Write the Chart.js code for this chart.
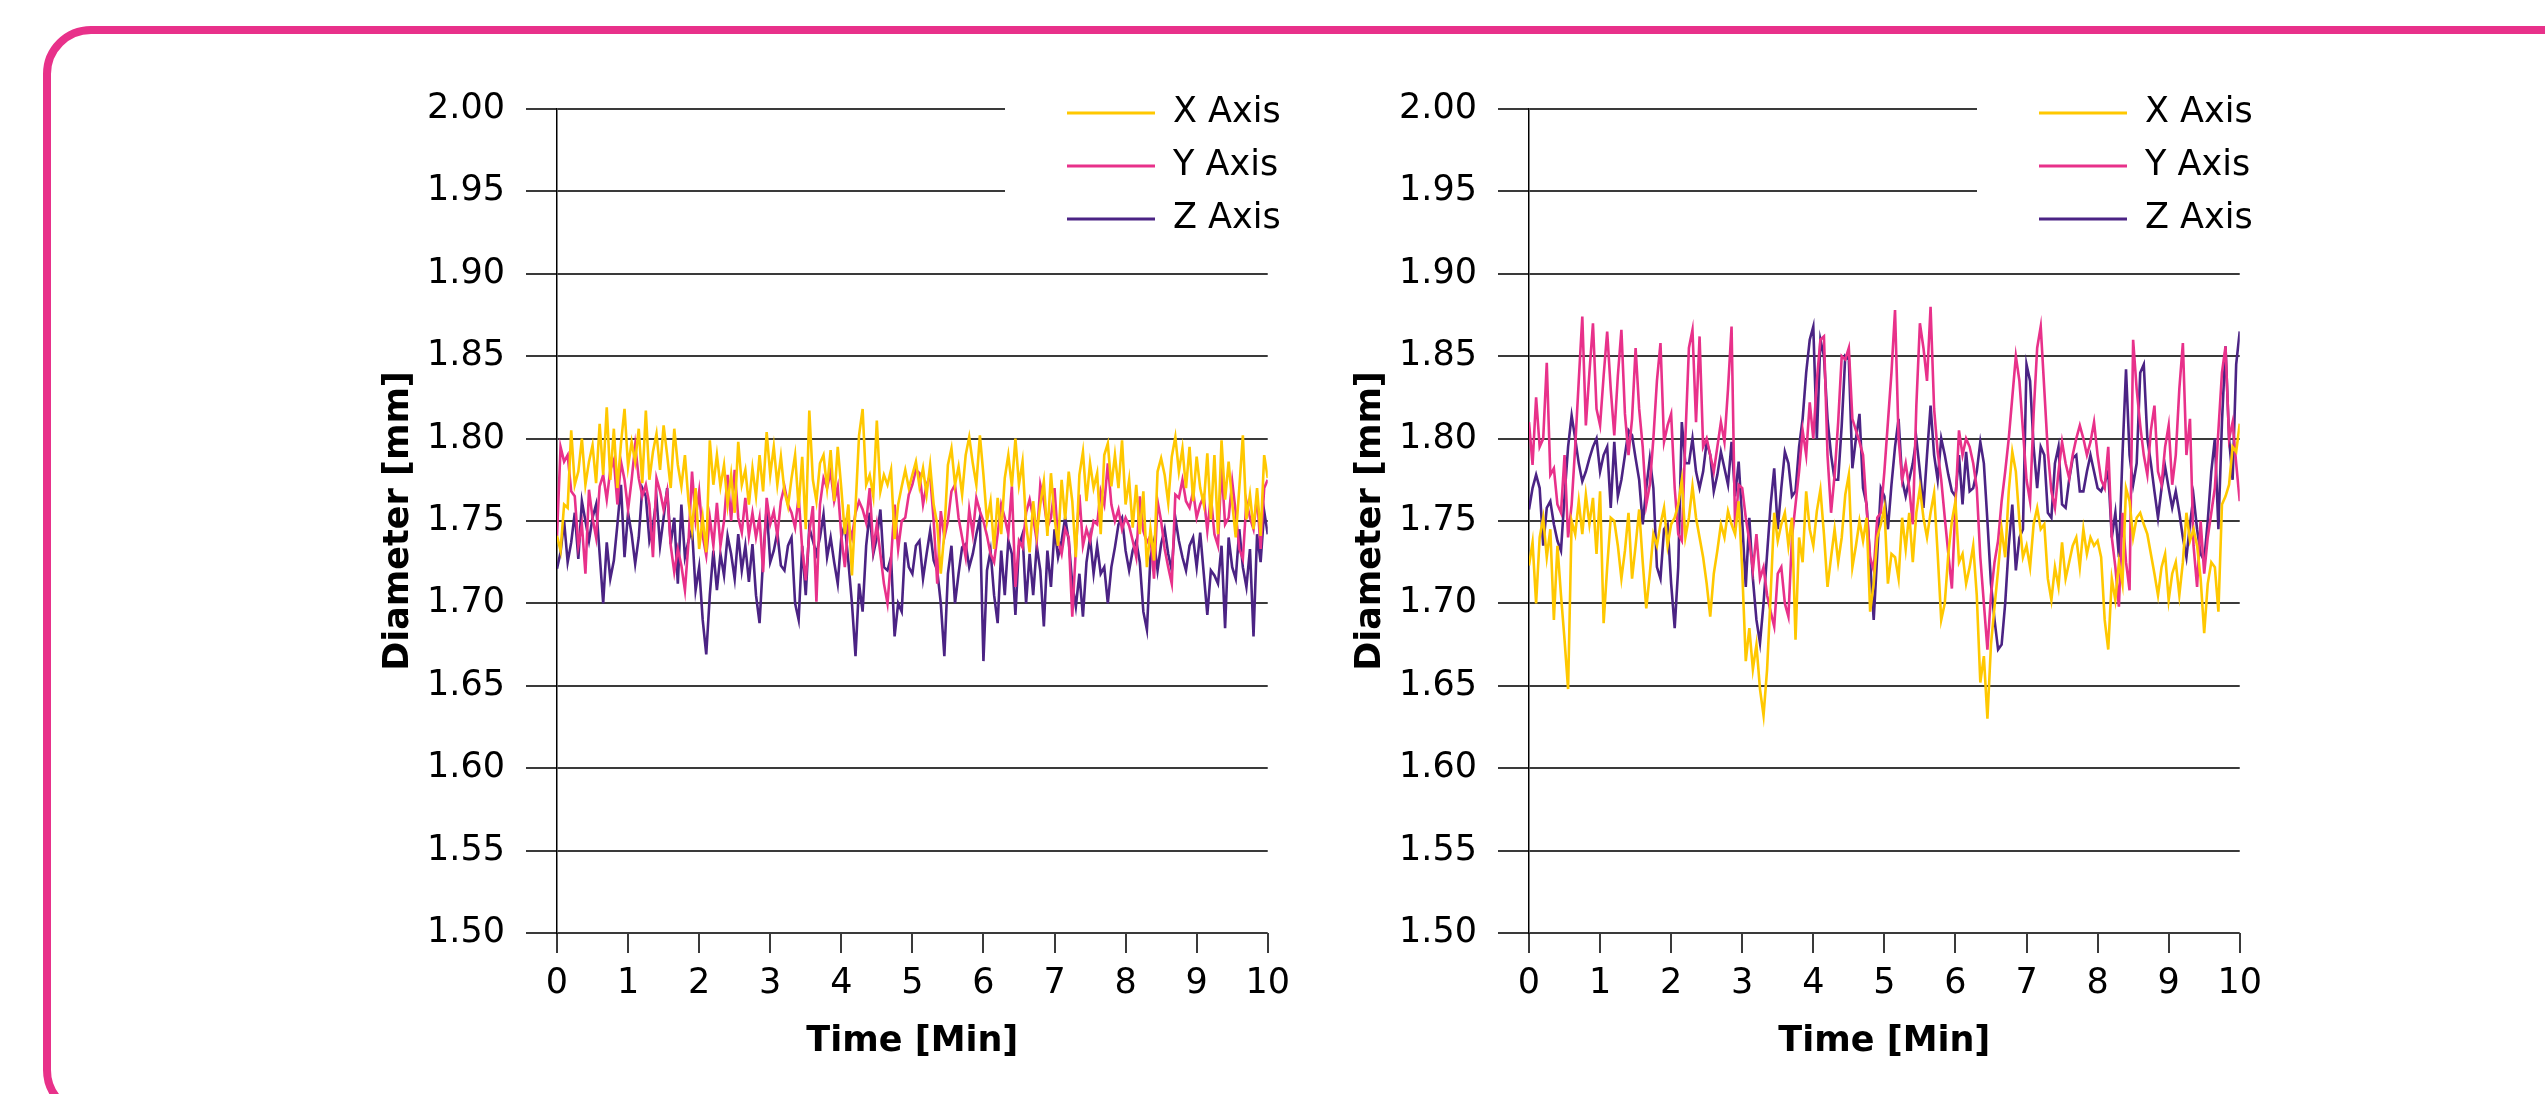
<!DOCTYPE html>
<html>
<head>
<meta charset="utf-8">
<script src="https://cdn.jsdelivr.net/npm/chart.js@4.4.1/dist/chart.umd.min.js"></script>
<style>
  html, body { margin: 0; padding: 0; background: #fff; overflow: hidden; }
  body { width: 2545px; height: 1094px; position: relative; }
  /* pink rounded frame, runs off the right and bottom edges */
  .frame {
    position: absolute; left: 43px; top: 26px; width: 2600px; height: 1092px;
    border: 8px solid #E8318A; border-radius: 48px; box-sizing: border-box;
  }
  canvas { position: absolute; top: 0; }
  #chartLeft { left: 300px; }
  #chartRight { left: 1272px; }
</style>
</head>
<body>
<div class="frame"></div>
<canvas id="chartLeft" width="1000" height="1094"></canvas>
<canvas id="chartRight" width="1000" height="1094"></canvas>
<script>
// data.js - values (mm), one sample every 0.05 min

const SAMPLE_COUNT = 201;
const SAMPLE_STEP_MIN = 0.05;
const timeMin = Array.from({ length: SAMPLE_COUNT }, (_, i) => +(i * SAMPLE_STEP_MIN).toFixed(2));

const xTicks = [0, 1, 2, 3, 4, 5, 6, 7, 8, 9, 10];
const yTicks = [1.50, 1.55, 1.60, 1.65, 1.70, 1.75, 1.80, 1.85, 1.90, 1.95, 2.00];
const seriesNames = ['X Axis', 'Y Axis', 'Z Axis'];

// left panel
const leftX = [
  1.741, 1.732, 1.760, 1.758, 1.805, 1.772, 1.780, 1.800, 1.772, 1.786,
  1.796, 1.773, 1.809, 1.778, 1.819, 1.775, 1.806, 1.770, 1.797, 1.818,
  1.783, 1.798, 1.786, 1.806, 1.773, 1.817, 1.775, 1.792, 1.803, 1.781,
  1.808, 1.790, 1.770, 1.806, 1.784, 1.771, 1.790, 1.762, 1.745, 1.770,
  1.733, 1.752, 1.731, 1.799, 1.772, 1.790, 1.771, 1.784, 1.760, 1.778,
  1.755, 1.798, 1.772, 1.781, 1.760, 1.782, 1.765, 1.790, 1.768, 1.804,
  1.778, 1.795, 1.772, 1.789, 1.768, 1.759, 1.776, 1.790, 1.758, 1.789,
  1.745, 1.817, 1.775, 1.762, 1.785, 1.790, 1.770, 1.793, 1.762, 1.795,
  1.770, 1.742, 1.760, 1.717, 1.758, 1.802, 1.818, 1.772, 1.778, 1.765,
  1.811, 1.768, 1.778, 1.772, 1.781, 1.739, 1.760, 1.771, 1.781, 1.770,
  1.778, 1.786, 1.771, 1.782, 1.766, 1.784, 1.760, 1.748, 1.718, 1.743,
  1.784, 1.794, 1.772, 1.783, 1.766, 1.790, 1.801, 1.785, 1.772, 1.802,
  1.778, 1.750, 1.762, 1.733, 1.764, 1.742, 1.776, 1.790, 1.771, 1.800,
  1.772, 1.786, 1.748, 1.731, 1.762, 1.742, 1.760, 1.774, 1.741, 1.779,
  1.752, 1.735, 1.775, 1.751, 1.780, 1.762, 1.728, 1.778, 1.792, 1.762,
  1.785, 1.770, 1.779, 1.742, 1.790, 1.797, 1.771, 1.790, 1.770, 1.799,
  1.760, 1.775, 1.746, 1.772, 1.742, 1.768, 1.722, 1.745, 1.726, 1.780,
  1.788, 1.778, 1.761, 1.789, 1.801, 1.780, 1.794, 1.770, 1.795, 1.762,
  1.789, 1.770, 1.760, 1.791, 1.751, 1.790, 1.742, 1.799, 1.763, 1.786,
  1.761, 1.740, 1.770, 1.802, 1.751, 1.766, 1.745, 1.770, 1.741, 1.790,
  1.776
];
const leftY = [
  1.741, 1.795, 1.786, 1.790, 1.768, 1.765, 1.735, 1.748, 1.718, 1.769,
  1.752, 1.740, 1.771, 1.778, 1.763, 1.781, 1.787, 1.760, 1.786, 1.775,
  1.757, 1.775, 1.796, 1.776, 1.765, 1.772, 1.760, 1.728, 1.776, 1.768,
  1.757, 1.768, 1.735, 1.719, 1.733, 1.723, 1.708, 1.737, 1.780, 1.751,
  1.768, 1.741, 1.729, 1.752, 1.735, 1.761, 1.735, 1.750, 1.778, 1.750,
  1.781, 1.752, 1.743, 1.764, 1.741, 1.755, 1.740, 1.752, 1.719, 1.764,
  1.748, 1.756, 1.741, 1.762, 1.771, 1.760, 1.755, 1.746, 1.765, 1.733,
  1.714, 1.743, 1.759, 1.701, 1.760, 1.776, 1.770, 1.780, 1.762, 1.771,
  1.741, 1.722, 1.748, 1.740, 1.755, 1.762, 1.757, 1.749, 1.770, 1.733,
  1.748, 1.730, 1.712, 1.700, 1.727, 1.760, 1.733, 1.750, 1.752, 1.766,
  1.772, 1.781, 1.779, 1.760, 1.772, 1.778, 1.750, 1.712, 1.756, 1.740,
  1.750, 1.768, 1.772, 1.752, 1.740, 1.728, 1.757, 1.742, 1.764, 1.756,
  1.750, 1.741, 1.730, 1.725, 1.742, 1.760, 1.752, 1.742, 1.771, 1.710,
  1.738, 1.734, 1.755, 1.763, 1.752, 1.738, 1.772, 1.762, 1.746, 1.752,
  1.770, 1.738, 1.730, 1.745, 1.740, 1.692, 1.733, 1.766, 1.735, 1.745,
  1.738, 1.750, 1.748, 1.768, 1.760, 1.785, 1.760, 1.750, 1.757, 1.745,
  1.752, 1.747, 1.738, 1.728, 1.765, 1.744, 1.737, 1.741, 1.715, 1.762,
  1.750, 1.733, 1.722, 1.712, 1.766, 1.764, 1.775, 1.762, 1.758, 1.768,
  1.752, 1.760, 1.765, 1.744, 1.765, 1.742, 1.735, 1.783, 1.748, 1.752,
  1.774, 1.755, 1.733, 1.727, 1.762, 1.752, 1.745, 1.765, 1.733, 1.770,
  1.775
];
const leftZ = [
  1.721, 1.731, 1.750, 1.725, 1.737, 1.755, 1.727, 1.762, 1.750, 1.738,
  1.752, 1.760, 1.730, 1.700, 1.737, 1.715, 1.726, 1.748, 1.772, 1.728,
  1.755, 1.742, 1.724, 1.740, 1.770, 1.765, 1.738, 1.747, 1.764, 1.735,
  1.752, 1.770, 1.736, 1.752, 1.712, 1.760, 1.728, 1.738, 1.745, 1.708,
  1.722, 1.690, 1.669, 1.705, 1.732, 1.708, 1.730, 1.717, 1.741, 1.730,
  1.715, 1.742, 1.720, 1.735, 1.713, 1.736, 1.705, 1.688, 1.727, 1.758,
  1.725, 1.732, 1.743, 1.723, 1.720, 1.735, 1.740, 1.700, 1.690, 1.735,
  1.705, 1.746, 1.738, 1.730, 1.740, 1.754, 1.728, 1.740, 1.725, 1.712,
  1.740, 1.748, 1.725, 1.700, 1.668, 1.712, 1.695, 1.735, 1.755, 1.730,
  1.740, 1.757, 1.722, 1.720, 1.728, 1.680, 1.700, 1.695, 1.737, 1.722,
  1.718, 1.735, 1.738, 1.715, 1.730, 1.744, 1.726, 1.720, 1.700, 1.668,
  1.718, 1.735, 1.700, 1.718, 1.734, 1.736, 1.722, 1.730, 1.742, 1.752,
  1.665, 1.720, 1.732, 1.705, 1.688, 1.732, 1.705, 1.738, 1.730, 1.693,
  1.735, 1.742, 1.700, 1.730, 1.705, 1.735, 1.720, 1.686, 1.732, 1.710,
  1.745, 1.728, 1.738, 1.752, 1.738, 1.712, 1.698, 1.718, 1.692, 1.725,
  1.740, 1.718, 1.735, 1.718, 1.722, 1.700, 1.722, 1.734, 1.748, 1.752,
  1.732, 1.720, 1.732, 1.738, 1.725, 1.695, 1.684, 1.728, 1.738, 1.720,
  1.736, 1.745, 1.730, 1.720, 1.752, 1.738, 1.728, 1.720, 1.735, 1.740,
  1.722, 1.743, 1.718, 1.693, 1.720, 1.717, 1.712, 1.735, 1.685, 1.740,
  1.722, 1.715, 1.745, 1.722, 1.710, 1.733, 1.680, 1.742, 1.725, 1.756,
  1.742
];

// right panel
const rightX = [
  1.723, 1.737, 1.700, 1.740, 1.752, 1.728, 1.745, 1.690, 1.735, 1.705,
  1.678, 1.648, 1.750, 1.742, 1.762, 1.742, 1.766, 1.748, 1.764, 1.730,
  1.768, 1.688, 1.722, 1.752, 1.750, 1.735, 1.715, 1.732, 1.755, 1.715,
  1.735, 1.757, 1.725, 1.697, 1.718, 1.742, 1.735, 1.748, 1.758, 1.735,
  1.748, 1.752, 1.760, 1.775, 1.740, 1.752, 1.771, 1.752, 1.740, 1.728,
  1.712, 1.692, 1.718, 1.732, 1.748, 1.740, 1.756, 1.748, 1.742, 1.762,
  1.720, 1.665, 1.685, 1.660, 1.675, 1.648, 1.632, 1.660, 1.705, 1.755,
  1.738, 1.748, 1.755, 1.735, 1.752, 1.678, 1.740, 1.725, 1.768, 1.745,
  1.735, 1.756, 1.769, 1.742, 1.710, 1.728, 1.745, 1.725, 1.740, 1.766,
  1.778, 1.722, 1.735, 1.750, 1.738, 1.752, 1.695, 1.712, 1.740, 1.748,
  1.758, 1.712, 1.730, 1.728, 1.715, 1.752, 1.733, 1.755, 1.725, 1.755,
  1.770, 1.752, 1.740, 1.755, 1.767, 1.730, 1.690, 1.700, 1.730, 1.750,
  1.762, 1.725, 1.730, 1.712, 1.722, 1.735, 1.705, 1.652, 1.668, 1.630,
  1.675, 1.698, 1.720, 1.745, 1.728, 1.768, 1.792, 1.780, 1.750, 1.728,
  1.735, 1.722, 1.748, 1.758, 1.745, 1.748, 1.715, 1.702, 1.722, 1.710,
  1.737, 1.715, 1.725, 1.735, 1.740, 1.722, 1.745, 1.730, 1.740, 1.735,
  1.738, 1.728, 1.690, 1.672, 1.715, 1.702, 1.725, 1.712, 1.770, 1.762,
  1.740, 1.752, 1.755, 1.748, 1.742, 1.730, 1.718, 1.705, 1.722, 1.730,
  1.702, 1.718, 1.725, 1.705, 1.725, 1.755, 1.738, 1.745, 1.735, 1.715,
  1.682, 1.712, 1.725, 1.722, 1.695, 1.760, 1.765, 1.772, 1.795, 1.792,
  1.809
];
const rightY = [
  1.810, 1.784, 1.825, 1.795, 1.800, 1.846, 1.778, 1.782, 1.760, 1.755,
  1.790, 1.740, 1.760, 1.795, 1.835, 1.874, 1.808, 1.840, 1.870, 1.818,
  1.808, 1.838, 1.865, 1.830, 1.802, 1.838, 1.866, 1.815, 1.790, 1.812,
  1.855, 1.818, 1.795, 1.760, 1.772, 1.800, 1.835, 1.858, 1.798, 1.808,
  1.815, 1.770, 1.742, 1.738, 1.800, 1.855, 1.866, 1.810, 1.862, 1.795,
  1.800, 1.790, 1.780, 1.795, 1.810, 1.798, 1.830, 1.868, 1.745, 1.772,
  1.770, 1.752, 1.738, 1.720, 1.742, 1.715, 1.722, 1.705, 1.695, 1.686,
  1.718, 1.722, 1.700, 1.692, 1.740, 1.760, 1.780, 1.805, 1.790, 1.822,
  1.800, 1.835, 1.860, 1.862, 1.790, 1.755, 1.778, 1.810, 1.850, 1.848,
  1.855, 1.812, 1.805, 1.798, 1.790, 1.758, 1.728, 1.720, 1.752, 1.755,
  1.780, 1.810, 1.840, 1.878, 1.800, 1.775, 1.785, 1.770, 1.748, 1.820,
  1.870, 1.855, 1.835, 1.880, 1.818, 1.792, 1.775, 1.752, 1.730, 1.709,
  1.760, 1.805, 1.790, 1.800, 1.795, 1.785, 1.770, 1.728, 1.700, 1.672,
  1.705, 1.725, 1.738, 1.762, 1.780, 1.800, 1.825, 1.850, 1.835, 1.805,
  1.775, 1.762, 1.815, 1.855, 1.868, 1.830, 1.792, 1.768, 1.758, 1.780,
  1.798, 1.785, 1.776, 1.790, 1.800, 1.808, 1.800, 1.790, 1.798, 1.810,
  1.790, 1.775, 1.770, 1.795, 1.740, 1.722, 1.698, 1.755, 1.725, 1.708,
  1.860, 1.830, 1.808, 1.790, 1.778, 1.805, 1.820, 1.780, 1.772, 1.795,
  1.808, 1.772, 1.790, 1.830, 1.858, 1.790, 1.812, 1.735, 1.710, 1.750,
  1.718, 1.740, 1.755, 1.770, 1.805, 1.840, 1.856, 1.800, 1.810, 1.785,
  1.762
];
const rightZ = [
  1.757, 1.770, 1.778, 1.770, 1.735, 1.758, 1.762, 1.748, 1.738, 1.732,
  1.765, 1.795, 1.814, 1.800, 1.785, 1.774, 1.780, 1.788, 1.795, 1.800,
  1.780, 1.790, 1.795, 1.758, 1.798, 1.765, 1.775, 1.790, 1.805, 1.802,
  1.788, 1.775, 1.748, 1.770, 1.788, 1.770, 1.722, 1.715, 1.745, 1.748,
  1.712, 1.685, 1.722, 1.810, 1.785, 1.785, 1.800, 1.780, 1.770, 1.780,
  1.798, 1.790, 1.768, 1.778, 1.792, 1.782, 1.772, 1.798, 1.765, 1.786,
  1.750, 1.710, 1.752, 1.715, 1.690, 1.676, 1.700, 1.730, 1.760, 1.782,
  1.745, 1.770, 1.792, 1.785, 1.765, 1.768, 1.795, 1.812, 1.840, 1.860,
  1.868, 1.800, 1.860, 1.850, 1.812, 1.790, 1.775, 1.775, 1.808, 1.850,
  1.848, 1.782, 1.800, 1.815, 1.770, 1.760, 1.725, 1.690, 1.730, 1.770,
  1.765, 1.745, 1.772, 1.795, 1.812, 1.775, 1.765, 1.775, 1.785, 1.800,
  1.780, 1.758, 1.790, 1.820, 1.790, 1.775, 1.800, 1.790, 1.778, 1.768,
  1.765, 1.790, 1.760, 1.792, 1.768, 1.770, 1.780, 1.798, 1.785, 1.750,
  1.712, 1.690, 1.672, 1.675, 1.700, 1.735, 1.760, 1.720, 1.740, 1.745,
  1.845, 1.835, 1.795, 1.770, 1.795, 1.790, 1.755, 1.752, 1.785, 1.795,
  1.760, 1.758, 1.775, 1.788, 1.790, 1.768, 1.768, 1.780, 1.790, 1.780,
  1.770, 1.768, 1.773, 1.780, 1.740, 1.755, 1.728, 1.790, 1.842, 1.790,
  1.772, 1.785, 1.840, 1.845, 1.800, 1.785, 1.768, 1.752, 1.770, 1.783,
  1.770, 1.758, 1.768, 1.755, 1.740, 1.728, 1.748, 1.765, 1.745, 1.730,
  1.726, 1.750, 1.780, 1.800, 1.745, 1.810, 1.856, 1.800, 1.775, 1.845,
  1.865
];

// charts.js - visual setup

const COLORS = ['#FFC800', '#E8318A', '#4B2384'];
const FONT = "'DejaVu Sans', Verdana, sans-serif";

Chart.defaults.font.family = FONT;
Chart.defaults.font.size = 35;
Chart.defaults.color = '#000';

// legend, axis titles and the short top grid lines, drawn by hand
const decorPlugin = {
  id: 'decor',
  beforeDatasetsDraw(chart) {
    const { ctx, chartArea } = chart;
    const y = chart.scales.y;
    const top = y.getPixelForValue(2.0) - 8;
    const bottom = y.getPixelForValue(1.95) + 8;
    // the 2.00 and 1.95 lines stop short of the legend
    ctx.save();
    ctx.fillStyle = '#fff';
    ctx.fillRect(chartArea.left + 448, top, chart.width - chartArea.left - 448, bottom - top);
    ctx.restore();
  },
  afterDraw(chart) {
    const { ctx, chartArea } = chart;
    ctx.save();

    // legend
    ctx.font = '35px ' + FONT;
    ctx.textBaseline = 'middle';
    ctx.textAlign = 'left';
    chart.data.datasets.forEach((ds, i) => {
      const rowY = chartArea.top + 4 + i * 53;
      ctx.strokeStyle = ds.borderColor;
      ctx.lineWidth = 3;
      ctx.beginPath();
      ctx.moveTo(chartArea.left + 510, rowY);
      ctx.lineTo(chartArea.left + 598, rowY);
      ctx.stroke();
      ctx.fillStyle = '#000';
      ctx.fillText(ds.label, chartArea.left + 616, rowY);
    });

    // axis titles
    ctx.font = 'bold 35px ' + FONT;
    ctx.fillStyle = '#000';
    ctx.textAlign = 'center';
    ctx.textBaseline = 'alphabetic';
    ctx.fillText('Time [Min]', (chartArea.left + chartArea.right) / 2, chartArea.bottom + 118);

    ctx.translate(chartArea.left - 149, (chartArea.top + chartArea.bottom) / 2);
    ctx.rotate(-Math.PI / 2);
    ctx.fillText('Diameter [mm]', 0, 0);
    ctx.restore();
  }
};

function criarGrafico(canvasId, valores, padRight) {
  return new Chart(document.getElementById(canvasId), {
    type: 'line',
    data: {
      labels: timeMin,
      datasets: valores.map((serie, i) => ({
        label: seriesNames[i],
        data: serie,
        borderColor: COLORS[i],
        backgroundColor: COLORS[i],
        borderWidth: 2.6,
        pointRadius: 0,
        tension: 0,
        fill: false
      }))
    },
    options: {
      responsive: false,
      animation: false,
      devicePixelRatio: 1,
      events: [],
      layout: { padding: { top: 109, right: padRight, left: 0, bottom: 0 } },
      plugins: {
        legend: { display: false },
        tooltip: { enabled: false }
      },
      scales: {
        x: {
          type: 'linear',
          min: 0,
          max: 10,
          afterBuildTicks: s => { s.ticks = xTicks.map(v => ({ value: v })); },
          afterFit: s => { s.height = 161; },
          ticks: { padding: 10, maxRotation: 0, callback: v => String(v) },
          grid: { drawOnChartArea: false, drawTicks: true, tickLength: 20, color: '#3a3a3a', lineWidth: 2 },
          border: { display: false }
        },
        y: {
          type: 'linear',
          min: 1.5,
          max: 2.0,
          afterBuildTicks: s => { s.ticks = yTicks.map(v => ({ value: v })); },
          afterFit: s => { s.width = 257; },
          ticks: { padding: 21, callback: v => v.toFixed(2) },
          grid: { color: '#3a3a3a', lineWidth: 2, tickLength: 31, drawTicks: true },
          border: { display: true, color: '#000', width: 1.5 }
        }
      }
    },
    plugins: [decorPlugin]
  });
}

criarGrafico('chartLeft', [leftX, leftY, leftZ], 29);
criarGrafico('chartRight', [rightX, rightY, rightZ], 27);
</script>
</body>
</html>
